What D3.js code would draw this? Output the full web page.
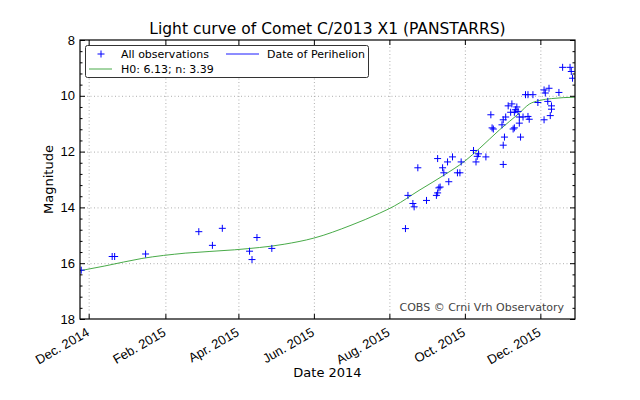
<!DOCTYPE html>
<html><head><meta charset="utf-8">
<script src="https://cdn.jsdelivr.net/npm/d3@7/dist/d3.min.js"></script>
<style>
body{margin:0;background:#fff;}
svg{font-family:"DejaVu Sans",sans-serif;}
</style></head>
<body><svg id="c" width="640" height="400"></svg>
<script>
// ---- data ----
const obsDates = ["2014-11-25","2014-12-20","2014-12-22","2015-01-16","2015-02-28","2015-03-11","2015-03-19","2015-04-10","2015-04-12","2015-04-16","2015-04-28",
"2015-08-14","2015-08-16","2015-08-20","2015-08-21","2015-08-24","2015-08-31","2015-09-08","2015-09-09","2015-09-09","2015-09-10","2015-09-11","2015-09-13","2015-09-14","2015-09-17","2015-09-18","2015-09-21","2015-09-25","2015-09-27","2015-09-28",
"2015-10-08","2015-10-10","2015-10-11","2015-10-12","2015-10-18","2015-10-22","2015-10-23","2015-10-24","2015-10-31",
"2015-11-01","2015-11-01","2015-11-01","2015-11-02","2015-11-03","2015-11-05","2015-11-07","2015-11-08","2015-11-09","2015-11-10","2015-11-10","2015-11-11","2015-11-12","2015-11-13","2015-11-14","2015-11-14","2015-11-15","2015-11-17","2015-11-19","2015-11-21","2015-11-21","2015-11-22","2015-11-25","2015-11-29",
"2015-12-04","2015-12-04","2015-12-05","2015-12-07","2015-12-08","2015-12-09","2015-12-10","2015-12-10","2015-12-16","2015-12-19","2015-12-25","2015-12-26","2015-12-27"];
const obsMags = [16.25,15.76,15.76,15.67,14.87,15.36,14.75,15.57,15.87,15.08,15.47,
14.76,13.57,13.86,13.98,12.58,13.75,13.57,12.25,13.48,13.30,13.27,12.58,12.76,12.37,13.08,12.19,12.76,12.76,12.37,
11.96,12.37,12.17,12.08,12.19,10.68,11.15,11.19,11.04,
11.77,10.86,12.46,11.48,10.76,10.36,10.59,10.29,11.19,11.15,10.59,10.50,10.40,10.56,10.76,10.98,11.48,10.76,9.96,9.96,10.74,10.84,9.96,10.24,
9.79,10.86,9.90,10.20,9.73,10.71,10.36,10.48,9.88,8.98,8.98,9.13,9.37];
const fitDates = ["2014-11-24","2014-12-14","2015-01-13","2015-02-17","2015-03-29","2015-05-08","2015-06-01","2015-07-01","2015-07-24","2015-08-05","2015-08-25","2015-09-15","2015-10-01","2015-10-13","2015-10-29","2015-11-14","2015-11-22","2015-11-30","2015-12-10","2015-12-29"];
const fitMags = [16.27,16.10,15.83,15.64,15.52,15.32,15.10,14.64,14.21,13.95,13.39,12.82,12.34,11.88,11.22,10.62,10.30,10.17,10.10,10.05];
const xTickDates = ["2014-12-01","2015-02-01","2015-04-01","2015-06-01","2015-08-01","2015-10-01","2015-12-01"];
const xTickLabels = ["Dec. 2014","Feb. 2015","Apr. 2015","Jun. 2015","Aug. 2015","Oct. 2015","Dec. 2015"];
const yTicks = [8,10,12,14,16,18];
const yMinor = [8.4,8.8,9.2,9.6,10.4,10.8,11.2,11.6,12.4,12.8,13.2,13.6,14.4,14.8,15.2,15.6,16.4,16.8,17.2,17.6];
const xDomain = ["2014-11-24","2015-12-29"];
const yDomain = [8,18];
const legendLabels = ["All observations","Date of Perihelion","H0: 6.13; n: 3.39"];

// ---- layout ----
const P = d3.utcParse("%Y-%m-%d");
const L=80,R=575,T=40,B=319;
const svg = d3.select("#c");
const x = d3.scaleUtc().domain(xDomain.map(P)).range([L,R]);
const y = d3.scaleLinear().domain(yDomain).range([T,B]);

svg.append("clipPath").attr("id","clip").append("rect").attr("x",L).attr("y",T).attr("width",R-L).attr("height",B-T);

// grid
const grid = svg.append("g").attr("stroke","#999").attr("stroke-width",0.8).attr("stroke-dasharray","1,2.5");
grid.selectAll(".gx").data(xTickDates).join("line").attr("x1",d=>x(P(d))+0.5).attr("x2",d=>x(P(d))+0.5).attr("y1",T).attr("y2",B);
grid.selectAll(".gy").data(yTicks.slice(1,-1)).join("line").attr("y1",d=>y(d)+0.5).attr("y2",d=>y(d)+0.5).attr("x1",L).attr("x2",R);

// fit curve
const plot = svg.append("g").attr("clip-path","url(#clip)");
plot.append("path").datum(fitDates.map((d,i)=>[P(d),fitMags[i]]))
  .attr("fill","none").attr("stroke","#33a033").attr("stroke-width",0.9)
  .attr("d",d3.line().x(d=>x(d[0])).y(d=>y(d[1])).curve(d3.curveMonotoneX));

// observations as "+"
plot.selectAll(".o").data(obsDates.map((d,i)=>[P(d),obsMags[i]])).join("path")
  .attr("d","M-3.5,0H3.5M0,-3.5V3.5")
  .attr("transform",d=>`translate(${x(d[0])},${y(d[1])})`)
  .attr("stroke","#0000ff").attr("stroke-width",1).attr("fill","none");

// axes
const fmt = d=> xTickLabels[xTickDates.indexOf(d3.utcFormat("%Y-%m-%d")(d))];
const xb = svg.append("g").attr("transform",`translate(0,${B})`)
  .call(d3.axisBottom(x).tickValues(xTickDates.map(P)).tickFormat(fmt).tickSizeInner(-5).tickSizeOuter(0));
xb.selectAll("text").attr("text-anchor","end").attr("font-size",13).attr("fill","#000")
  .attr("y",0).attr("dy",0).attr("transform","translate(1,16) rotate(-30)");
svg.append("g").attr("transform",`translate(0,${T})`)
  .call(d3.axisTop(x).tickValues(xTickDates.map(P)).tickFormat("").tickSizeInner(-5).tickSizeOuter(0));
const yl = svg.append("g").attr("transform",`translate(${L},0)`)
  .call(d3.axisLeft(y).tickValues(yTicks).tickSizeInner(-5).tickSizeOuter(0).tickPadding(5));
yl.selectAll("text").attr("font-size",13).attr("fill","#000");
svg.append("g").attr("transform",`translate(${L},0)`)
  .call(d3.axisLeft(y).tickValues(yMinor).tickFormat("").tickSizeInner(-2.5).tickSizeOuter(0));
svg.append("g").attr("transform",`translate(${R},0)`)
  .call(d3.axisRight(y).tickValues(yTicks).tickFormat("").tickSizeInner(-5).tickSizeOuter(0));
svg.append("g").attr("transform",`translate(${R},0)`)
  .call(d3.axisRight(y).tickValues(yMinor).tickFormat("").tickSizeInner(-2.5).tickSizeOuter(0));
svg.selectAll(".domain").remove();
svg.selectAll(".tick line").attr("stroke","#000");

// frame
svg.append("rect").attr("x",L).attr("y",T).attr("width",R-L).attr("height",B-T)
  .attr("fill","none").attr("stroke","#000").attr("stroke-width",1.2);

// labels
svg.append("text").attr("x",(L+R)/2).attr("y",34).attr("text-anchor","middle").attr("font-size",15.5).text("Light curve of Comet C/2013 X1 (PANSTARRS)");
svg.append("text").attr("x",(L+R)/2).attr("y",377).attr("text-anchor","middle").attr("font-size",13).text("Date 2014");
svg.append("text").attr("transform",`translate(53,${(T+B)/2}) rotate(-90)`).attr("text-anchor","middle").attr("font-size",13).text("Magnitude");
svg.append("text").attr("x",564).attr("y",311).attr("text-anchor","end").attr("font-size",11).attr("fill","#444").text("COBS \u00a9 Crni Vrh Observatory");

// legend
const lg = svg.append("g");
lg.append("rect").attr("x",85.5).attr("y",45.5).attr("width",283).attr("height",32).attr("rx",2)
  .attr("fill","#fff").attr("stroke","#333").attr("stroke-width",1);
lg.append("path").attr("d","M-3.5,0H3.5M0,-3.5V3.5").attr("transform","translate(101,54)").attr("stroke","#0000ff").attr("fill","none");
lg.append("line").attr("x1",226).attr("x2",259).attr("y1",54).attr("y2",54).attr("stroke","#0000ff").attr("stroke-width",0.9);
lg.append("line").attr("x1",89).attr("x2",112).attr("y1",69).attr("y2",69).attr("stroke","#33a033").attr("stroke-width",0.9);
lg.append("text").attr("x",121).attr("y",58).attr("font-size",11).text(legendLabels[0]);
lg.append("text").attr("x",267).attr("y",58).attr("font-size",11).text(legendLabels[1]);
lg.append("text").attr("x",121).attr("y",73).attr("font-size",11).text(legendLabels[2]);
</script></body></html>
